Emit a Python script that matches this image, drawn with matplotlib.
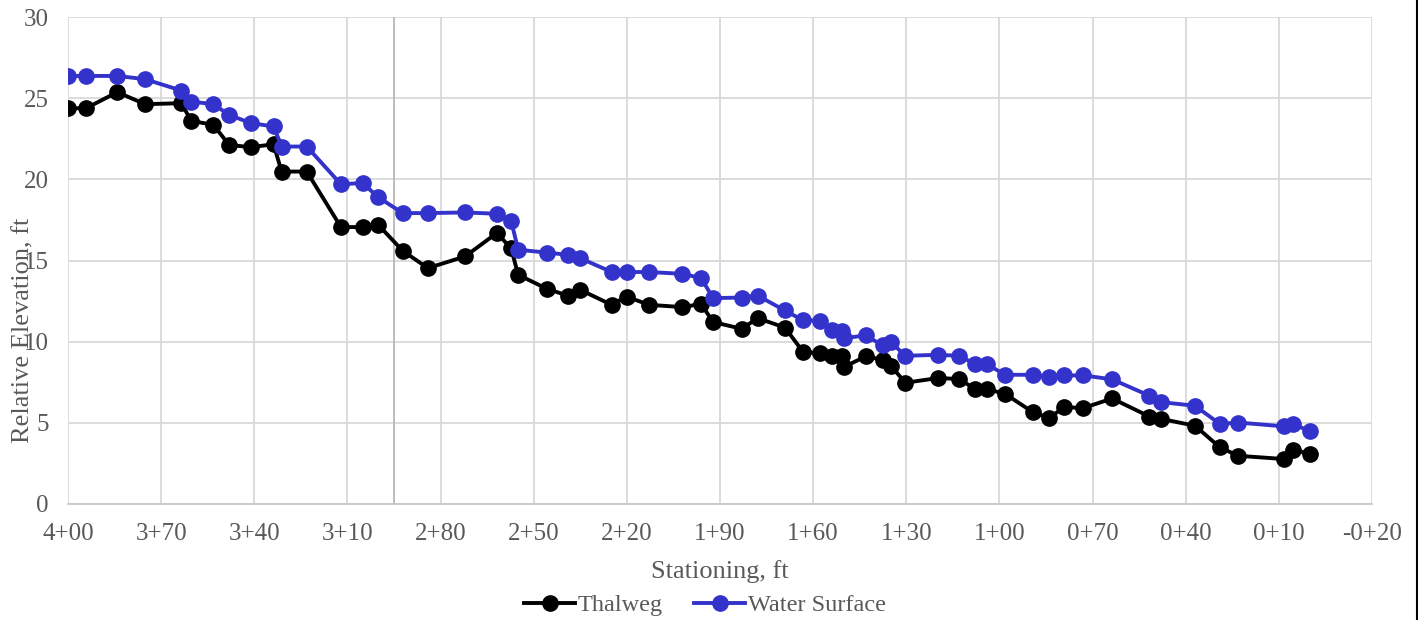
import numpy as np
import matplotlib.pyplot as plt
from matplotlib.lines import Line2D

# stationing (ft)
station = [400.0, 394.2, 384.1, 375.2, 363.5, 360.3, 353.2, 348.1, 341.1, 333.8,
           331.2, 323.1, 312.1, 305.1, 300.1, 292.2, 284.1, 272.1, 261.9, 257.3,
           255.0, 245.8, 239.1, 235.1, 224.9, 220.1, 212.9, 202.1, 196.1, 192.2,
           183.0, 177.9, 169.1, 163.2, 157.8, 153.8, 150.8, 150.1, 143.1, 137.6,
           135.0, 130.3, 119.7, 112.9, 107.9, 104.1, 98.2, 89.1, 83.9, 79.2,
           73.0, 63.7, 51.7, 48.1, 37.0, 29.0, 23.1, 8.3, 5.3, 0.0]

thalweg = [24.38, 24.38, 25.37, 24.63, 24.69, 23.60, 23.36, 22.12, 21.98, 22.16,
           20.48, 20.48, 17.06, 17.06, 17.20, 15.60, 14.53, 15.25, 16.69, 15.76,
           14.12, 13.26, 12.84, 13.20, 12.27, 12.78, 12.27, 12.13, 12.32, 11.21,
           10.79, 11.45, 10.87, 9.36, 9.30, 9.09, 9.09, 8.44, 9.09, 8.89,
           8.52, 7.47, 7.76, 7.70, 7.08, 7.08, 6.79, 5.64, 5.30, 5.97,
           5.91, 6.50, 5.39, 5.25, 4.82, 3.49, 2.97, 2.77, 3.34, 3.08]

water_surface = [26.37, 26.37, 26.37, 26.17, 25.47, 24.79, 24.63, 23.97, 23.46, 23.26,
                 22.02, 22.02, 19.70, 19.77, 18.90, 17.92, 17.92, 17.96, 17.88, 17.46,
                 15.66, 15.49, 15.35, 15.15, 14.29, 14.29, 14.29, 14.18, 13.92, 12.68,
                 12.72, 12.84, 11.92, 11.31, 11.29, 10.73, 10.63, 10.22, 10.38, 9.77,
                 9.98, 9.13, 9.19, 9.13, 8.62, 8.62, 7.96, 7.96, 7.82, 7.92,
                 7.92, 7.68, 6.67, 6.28, 6.05, 4.93, 5.02, 4.78, 4.93, 4.47]

x_ticks = list(range(400, -21, -30))
y_ticks = [0, 5, 10, 15, 20, 25, 30]
marker_station = 295  # grey vertical reference line


def sta_label(v):
    sign = "-" if v < 0 else ""
    v = abs(int(v))
    return f"{sign}{v // 100}+{v % 100:02d}"


plt.rcParams['font.family'] = ['Liberation Serif', 'DejaVu Serif']
text_col = '#595959'

fig = plt.figure(figsize=(14.18, 6.2), dpi=100)
ax = fig.add_axes([68 / 1418, 1 - 504 / 620, 1304 / 1418, 487 / 620])

ax.set_xlim(400, -20)
ax.set_ylim(0, 30)
ax.set_xticks(x_ticks)
ax.set_xticklabels([sta_label(v) for v in x_ticks])
ax.set_yticks(y_ticks)
ax.grid(True, color='#d9d9d9', lw=1.3, zorder=0)
ax.set_axisbelow(True)
for s in ['top', 'left', 'right']:
    ax.spines[s].set_visible(False)
ax.spines['bottom'].set_color('#c8c8c8')
ax.spines['bottom'].set_linewidth(1.3)
ax.tick_params(length=0, labelsize=18, colors=text_col)
ax.tick_params(axis='x', pad=14)
ax.tick_params(axis='y', pad=14)

ax.axvline(marker_station, color='#b8b8b8', lw=1.3, zorder=1)

ax.plot(station, thalweg, color='black', lw=2.8, marker='o', ms=11,
        label='Thalweg', zorder=3)
ax.plot(station, water_surface, color='#3333cc', lw=2.8, marker='o', ms=11,
        label='Water Surface', zorder=3)

ax.set_xlabel('Stationing, ft', fontsize=19, color=text_col)
ax.xaxis.set_label_coords(0.5, -0.115)
ax.set_ylabel('Relative Elevation, ft', fontsize=19, color=text_col)
ax.yaxis.set_label_coords(-0.026, 0.357)

fig.legend(loc='center', bbox_to_anchor=(705 / 1418, 1 - 605 / 620), ncol=2,
           frameon=False, fontsize=17.5, labelcolor=text_col, handlelength=2.1,
           handletextpad=0.1, columnspacing=1.3, borderpad=0)

fig.add_artist(Line2D([0.9992, 0.9992], [0, 1], color='black', lw=1.5,
                      transform=fig.transFigure))

fig.savefig('out.png', dpi=100)
